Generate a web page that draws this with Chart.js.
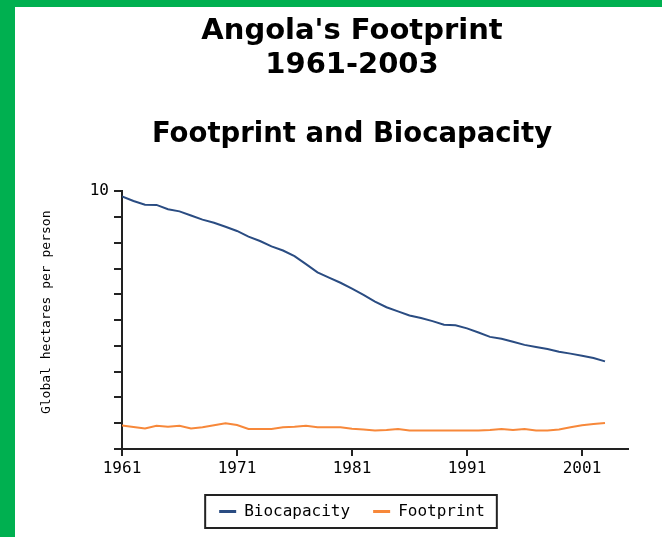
<!DOCTYPE html>
<html>
<head>
<meta charset="utf-8">
<script src="https://cdn.jsdelivr.net/npm/chart.js@4"></script>
<style>
  html, body { margin: 0; padding: 0; background: #fff; overflow: hidden; }
  body { width: 662px; height: 537px; position: relative; }
  #myChart { position: absolute; left: 0; top: 0; }
  .green { position: absolute; background: #00b050; }
</style>
</head>
<body>
<canvas id="myChart" width="704" height="537"></canvas>
<div class="green" style="left:0;top:0;width:662px;height:7px"></div>
<div class="green" style="left:0;top:0;width:15px;height:537px"></div>
<script>
const years = [
  1961, 1962, 1963, 1964, 1965, 1966, 1967, 1968, 1969, 1970,
  1971, 1972, 1973, 1974, 1975, 1976, 1977, 1978, 1979, 1980,
  1981, 1982, 1983, 1984, 1985, 1986, 1987, 1988, 1989, 1990,
  1991, 1992, 1993, 1994, 1995, 1996, 1997, 1998, 1999, 2000,
  2001, 2002, 2003
];

const biocapacity = [
  9.80, 9.62, 9.48, 9.47, 9.30, 9.22, 9.06, 8.90, 8.78, 8.62,
  8.46, 8.24, 8.07, 7.86, 7.70, 7.48, 7.17, 6.85, 6.65, 6.45,
  6.22, 5.98, 5.72, 5.50, 5.34, 5.18, 5.08, 4.96, 4.82, 4.80,
  4.68, 4.52, 4.35, 4.28, 4.16, 4.04, 3.96, 3.88, 3.77, 3.70,
  3.62, 3.53, 3.40
];

const footprint = [
  0.91, 0.85, 0.80, 0.90, 0.86, 0.90, 0.80, 0.84, 0.92, 1.00,
  0.93, 0.78, 0.78, 0.78, 0.84, 0.86, 0.90, 0.84, 0.84, 0.84,
  0.79, 0.76, 0.72, 0.74, 0.78, 0.72, 0.72, 0.72, 0.72, 0.72,
  0.72, 0.72, 0.74, 0.78, 0.74, 0.78, 0.72, 0.72, 0.76, 0.84,
  0.92, 0.97, 1.01
];

const xTicks = [1961, 1971, 1981, 1991, 2001];
const yLabelled = [10];

Chart.defaults.font.family = "'DejaVu Sans Mono', monospace";
Chart.defaults.color = "#000";

// frame drawn round the legend items
const legendFrame = {
  id: "legendFrame",
  afterDraw(chart) {
    const boxes = chart.legend.legendHitBoxes;
    if (!boxes || !boxes.length) return;
    const first = boxes[0];
    const last = boxes[boxes.length - 1];
    const cy = first.top + first.height / 2;
    const ctx = chart.ctx;
    ctx.save();
    ctx.strokeStyle = "#222";
    ctx.lineWidth = 2;
    ctx.strokeRect(first.left - 14, cy - 16.5, last.left + last.width + 12 - (first.left - 14), 33);
    ctx.restore();
  }
};

const axisColor = "#222";

new Chart(document.getElementById("myChart"), {
  type: "line",
  data: {
    labels: years,
    datasets: [
      {
        label: "Biocapacity",
        data: biocapacity,
        borderColor: "#2a4c82",
        backgroundColor: "#2a4c82",
        borderWidth: 2,
        pointRadius: 0,
        tension: 0
      },
      {
        label: "Footprint",
        data: footprint,
        borderColor: "#f7883a",
        backgroundColor: "#f7883a",
        borderWidth: 2,
        pointRadius: 0,
        tension: 0
      }
    ]
  },
  options: {
    responsive: false,
    animation: false,
    layout: { padding: { left: 0, right: 0, top: 0, bottom: 7.5 } },
    plugins: {
      title: {
        display: true,
        text: ["Angola's Footprint", "1961-2003"],
        font: { family: "'DejaVu Sans', sans-serif", size: 29, weight: "bold", lineHeight: 1.155 },
        padding: { top: 14.75, bottom: 0 }
      },
      subtitle: {
        display: true,
        text: "Footprint and Biocapacity",
        color: "#000",
        font: { family: "'DejaVu Sans', sans-serif", size: 27.5, weight: "bold", lineHeight: 1.2 },
        padding: { top: 36.3, bottom: 40.2 }
      },
      legend: {
        position: "bottom",
        labels: {
          font: { size: 16 },
          boxWidth: 17,
          boxHeight: 3,
          padding: 23,
          generateLabels(chart) {
            const items = Chart.defaults.plugins.legend.labels.generateLabels(chart);
            items.forEach(i => { i.lineWidth = 0; });
            return items;
          }
        }
      },
      tooltip: { enabled: false }
    },
    scales: {
      x: {
        type: "linear",
        min: 1961,
        max: 2005,
        afterBuildTicks(scale) {
          scale.ticks = xTicks.map(v => ({ value: v }));
        },
        afterFit(scale) { scale.height = 31.5; },
        ticks: {
          font: { size: 16 },
          padding: 3,
          maxRotation: 0,
          callback: v => String(v)
        },
        grid: { drawOnChartArea: false, drawTicks: true, tickLength: 7, color: axisColor, lineWidth: 2 },
        border: { display: true, color: axisColor, width: 2 }
      },
      y: {
        min: 0,
        max: 10,
        afterFit(scale) { scale.width = 122; },
        ticks: {
          stepSize: 1,
          font: { size: 16 },
          padding: 5,
          callback: v => (yLabelled.includes(v) ? String(v) : "")
        },
        grid: { drawOnChartArea: false, drawTicks: true, tickLength: 8, color: axisColor, lineWidth: 2 },
        border: { display: true, color: axisColor, width: 2 },
        title: {
          display: true,
          text: "  Global hectares per person",
          font: { size: 13 },
          padding: { top: 39, bottom: 0 }
        }
      },
      // empty axis, keeps the plot clear of the right side
      spacer: {
        axis: "y",
        position: "right",
        display: true,
        afterFit(scale) { scale.width = 76; },
        ticks: { display: false },
        grid: { display: false },
        border: { display: false }
      }
    }
  },
  plugins: [legendFrame]
});
</script>
</body>
</html>
